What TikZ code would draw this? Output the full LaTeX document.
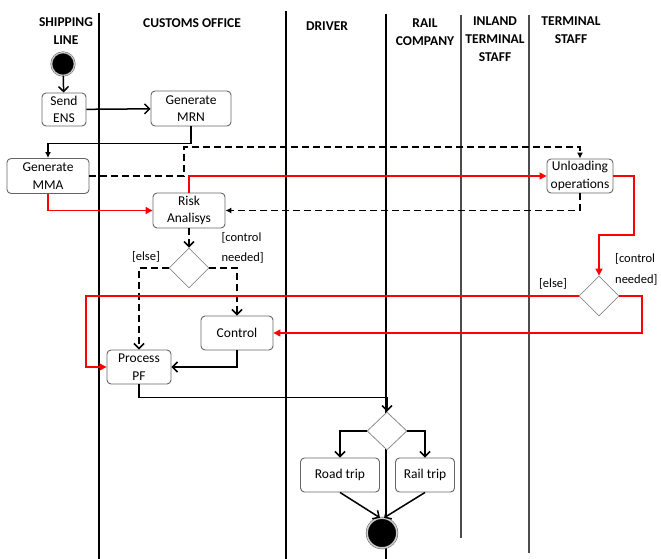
\documentclass[tikz,border=0pt]{standalone}
\usepackage{fontspec}
\setmainfont{Carlito}
\usetikzlibrary{arrows.meta,shapes.geometric}
\tikzset{
    act/.style={draw=gray!80!black,line width=0.9pt,rounded corners=4pt,align=center,fill=white,
        font=\fontsize{13.5}{17.5}\selectfont,inner sep=1pt},
    decide/.style={diamond,draw=gray!90,line width=0.8pt,minimum width=40pt,minimum height=40pt,
        inner sep=0pt,fill=white},
    flow/.style={line width=1.5pt,-{Straight Barb[length=5pt,width=10pt]}},
    optflow/.style={flow,dash pattern=on 7pt off 4pt},
    redflow/.style={line width=1.3pt,red,-{Triangle[length=7pt,width=7pt]}},
    lane/.style={font=\bfseries\fontsize{13.5}{18}\selectfont,align=center,anchor=north},
    guard/.style={font=\fontsize{12.5}{14}\selectfont}
}
\begin{document}
\begin{tikzpicture}[x=1pt,y=-1pt]
    \useasboundingbox (0,0) rectangle (661,559);
    % swimlanes
    \draw[line width=1.4pt] (99,13) -- (99,559);
    \draw[line width=1.4pt] (286,11) -- (286,559);
    \draw[line width=1.4pt] (386,14) -- (386,559);
    \draw[line width=1.4pt,black!70] (461,15) -- (461,538);
    \draw[line width=1.4pt,black!70] (529,15) -- (529,553);
    \node[lane] (hship) at (66,14) {SHIPPING\\LINE};
    \node[lane] (hcust) at (192,15) {CUSTOMS OFFICE};
    \node[lane] (hdrv) at (327,18) {DRIVER};
    \node[lane] (hrail) at (425,15) {RAIL\\COMPANY};
    \node[lane] (hinl) at (495,13) {INLAND\\TERMINAL\\STAFF};
    \node[lane] (hterm) at (571,13) {TERMINAL\\STAFF};

    \node[circle,fill=black,minimum size=23pt,draw=black!70,double=gray!40,
        double distance=1.2pt] (start) at (63,64) {};
    \node[act,minimum width=44pt,minimum height=33pt] (ens) at (64,109.5) {Send\\ENS};
    \node[act,minimum width=80pt,minimum height=35pt] (mrn) at (191,108.5) {Generate\\MRN};
    \node[act,minimum width=82pt,minimum height=35pt] (mma) at (48,176) {Generate\\MMA};
    \node[act,minimum width=66pt,minimum height=34pt] (unload) at (580,176) {Unloading\\operations};
    \node[act,minimum width=72pt,minimum height=35pt] (risk) at (189,210.5) {Risk\\Analisys};
    \node[decide] (dec1) at (189,268) {};
    \node[act,minimum width=72pt,minimum height=34pt] (control) at (237,333) {Control};
    \node[act,minimum width=64pt,minimum height=34pt] (pf) at (139,367) {Process\\PF};
    \node[decide] (dec2) at (599,296) {};
    \node[decide,minimum height=38pt] (dec3) at (387,431) {};
    \node[act,minimum width=79pt,minimum height=34pt] (road) at (340,475) {Road trip};
    \node[act,minimum width=59pt,minimum height=34pt] (rail) at (425,475) {Rail trip};
    \node[circle,fill=black,minimum size=30pt,draw=black!70,double=gray!40,
        double distance=1.5pt] (stop) at (382,533) {};

    \node[guard,anchor=west] (g1a) at (218,238) {[control};
    \node[guard,anchor=west] (g1b) at (218,258) {needed]};
    \node[guard] (g1c) at (146,257) {[else]};
    \node[guard,anchor=west,inner sep=1pt] (g2a) at (614,259) {[control};
    \node[guard,anchor=west,inner sep=1pt] (g2b) at (614,280) {needed]};
    \node[guard] (g2c) at (553,284) {[else]};

    \draw[flow] (start) -- (ens);
    \draw[flow] (ens) -- (mrn);
    \draw[flow,-{Latex[length=6pt,width=6pt]}] (mrn.south) -- ++(0,17) -| (mma.north);
    \draw[optflow,-{Latex[length=6pt,width=6pt]}] (mma.east) -| (184,147) -| (unload.north);
    \draw[redflow] (mma.south) |- (risk.west);
    \draw[redflow] (risk.north) |- (unload.west);
    \draw[optflow,-{Latex[length=6pt,width=6pt]}] (unload.south) |- (risk.east);
    \draw[optflow] (risk.south) -- (dec1.north);
    \draw[optflow] (dec1.west) -| (pf.north);
    \draw[optflow] (dec1.east) -| (control.north);
    \draw[flow] (control.south) |- (pf.east);
    \draw[redflow] (unload.east) -| (634,235) -| (dec2.north);
    \draw[redflow] (dec2.west) -- (86,296) |- (pf.west);
    \draw[redflow] (dec2.east) -- (642,296) |- (control.east);
    \draw[flow] (pf.south) -- ++(0,13) -| (dec3.north);
    \draw[flow] (dec3.west) -| (road.north);
    \draw[flow] (dec3.east) -| (rail.north);
    \draw[flow] (road.south) -- ([xshift=-2pt]stop.north);
    \draw[flow] (rail.south) -- ([xshift=2pt]stop.north);
\end{tikzpicture}
\end{document}
